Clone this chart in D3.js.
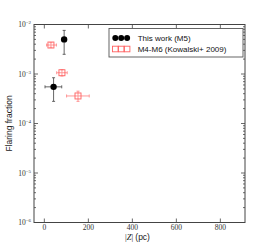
<!DOCTYPE html>
<html>
<head>
<meta charset="utf-8">
<script src="https://cdn.jsdelivr.net/npm/d3@7"></script>
<style>
  body { margin: 0; background: #fff; }
  svg { display: block; }
</style>
</head>
<body>
<script>
// data
var thisWork = [
  { z: 90, f: 5.0e-3, fLo: 2.5e-3, fHi: 7.6e-3, zLo: 90, zHi: 90 },
  { z: 42, f: 5.5e-4, fLo: 2.8e-4, fHi: 8.4e-4, zLo: 3, zHi: 79 }
];
var kowalski = [
  { z: 30, f: 3.85e-3, fLo: 3.45e-3, fHi: 4.3e-3, zLo: 10, zHi: 55 },
  { z: 80, f: 1.06e-3, fLo: 9.1e-4, fHi: 1.22e-3, zLo: 56, zHi: 104 },
  { z: 153, f: 3.6e-4, fLo: 2.8e-4, fHi: 4.5e-4, zLo: 101, zHi: 204 }
];
var xTicks = [0, 200, 400, 600, 800];
var yTicks = [1e-6, 1e-5, 1e-4, 1e-3, 1e-2];
var legendLabels = ["This work (M5)", "M4-M6 (Kowalski+ 2009)"];

var width = 274, height = 247;
var pLeft = 34, pRight = 245, pTop = 24.5, pBottom = 222.5;

var svg = d3.select("body").append("svg")
    .attr("width", width)
    .attr("height", height);

var x = d3.scaleLinear().domain([-47, 912]).range([pLeft, pRight]);
var y = d3.scaleLog().domain([1e-6, 1e-2]).range([pBottom, pTop]);

var spine = "#444";
var minorY = [];
for (var e = -6; e < -2; e++) {
  for (var m = 2; m <= 9; m++) minorY.push(m * Math.pow(10, e));
}

// ticks, pointing inward, on all four sides
var tg = svg.append("g").attr("stroke", spine).attr("stroke-width", 0.8);
xTicks.forEach(function (t) {
  tg.append("line").attr("x1", x(t)).attr("x2", x(t)).attr("y1", pBottom).attr("y2", pBottom - 4);
  tg.append("line").attr("x1", x(t)).attr("x2", x(t)).attr("y1", pTop).attr("y2", pTop + 4);
});
yTicks.forEach(function (t) {
  tg.append("line").attr("x1", pLeft).attr("x2", pLeft + 4).attr("y1", y(t)).attr("y2", y(t));
  tg.append("line").attr("x1", pRight).attr("x2", pRight - 4).attr("y1", y(t)).attr("y2", y(t));
});
minorY.forEach(function (t) {
  tg.append("line").attr("x1", pLeft).attr("x2", pLeft + 2).attr("y1", y(t)).attr("y2", y(t));
  tg.append("line").attr("x1", pRight).attr("x2", pRight - 2).attr("y1", y(t)).attr("y2", y(t));
});

svg.append("rect")
    .attr("x", pLeft).attr("y", pTop)
    .attr("width", pRight - pLeft).attr("height", pBottom - pTop)
    .attr("fill", "none").attr("stroke", spine).attr("stroke-width", 1);

// tick labels (mathtext style)
svg.selectAll(".xt").data(xTicks).enter().append("text")
    .attr("x", function (d) { return x(d); })
    .attr("y", pBottom + 7)
    .attr("text-anchor", "middle")
    .attr("font-family", "Liberation Serif")
    .attr("font-size", 7.5)
    .attr("fill", "#333")
    .text(function (d) { return d; });

var yt = svg.selectAll(".yt").data(yTicks).enter().append("text")
    .attr("x", pLeft - 3)
    .attr("y", function (d) { return y(d) + 2.5; })
    .attr("text-anchor", "end")
    .attr("font-family", "Liberation Serif")
    .attr("font-size", 7.5)
    .attr("fill", "#333");
yt.append("tspan").text("10");
yt.append("tspan")
    .attr("dy", -3)
    .attr("font-size", 5)
    .text(function (d) { return "\u2212" + Math.round(-Math.log10(d)); });

// axis labels
svg.append("text")
    .attr("transform", "translate(12," + ((pTop + pBottom) / 2) + ") rotate(-90)")
    .attr("text-anchor", "middle")
    .attr("font-family", "Liberation Sans")
    .attr("font-size", 8.5)
    .attr("fill", "#222")
    .text("Flaring fraction");

var xl = svg.append("text")
    .attr("x", (pLeft + pRight) / 2 - 2)
    .attr("y", 239.5)
    .attr("text-anchor", "middle")
    .attr("font-size", 8.5)
    .attr("fill", "#222");
xl.append("tspan").attr("font-family", "Liberation Serif").text("|");
xl.append("tspan").attr("font-family", "Liberation Serif").attr("font-style", "italic").text("Z");
xl.append("tspan").attr("font-family", "Liberation Serif").text("| ");
xl.append("tspan").attr("font-family", "Liberation Sans").text("(pc)");

// error bars
function errorBars(data, color) {
  var g = svg.append("g").attr("stroke", color).attr("stroke-width", 0.9);
  data.forEach(function (d) {
    var cx = x(d.z), cy = y(d.f);
    g.append("line").attr("x1", cx).attr("x2", cx).attr("y1", y(d.fLo)).attr("y2", y(d.fHi));
    g.append("line").attr("x1", cx - 1.5).attr("x2", cx + 1.5).attr("y1", y(d.fLo)).attr("y2", y(d.fLo));
    g.append("line").attr("x1", cx - 1.5).attr("x2", cx + 1.5).attr("y1", y(d.fHi)).attr("y2", y(d.fHi));
    if (d.zHi > d.zLo) {
      g.append("line").attr("x1", x(d.zLo)).attr("x2", x(d.zHi)).attr("y1", cy).attr("y2", cy);
      g.append("line").attr("x1", x(d.zLo)).attr("x2", x(d.zLo)).attr("y1", cy - 1.5).attr("y2", cy + 1.5);
      g.append("line").attr("x1", x(d.zHi)).attr("x2", x(d.zHi)).attr("y1", cy - 1.5).attr("y2", cy + 1.5);
    }
  });
}

errorBars(kowalski, "#ff8c8c");
svg.selectAll(".sq").data(kowalski).enter().append("rect")
    .attr("x", function (d) { return x(d.z) - 3; })
    .attr("y", function (d) { return y(d.f) - 3; })
    .attr("width", 6).attr("height", 6)
    .attr("fill", "none")
    .attr("stroke", "#ff6060")
    .attr("stroke-width", 0.9);

errorBars(thisWork, "#555");
svg.selectAll(".dot").data(thisWork).enter().append("circle")
    .attr("cx", function (d) { return x(d.z); })
    .attr("cy", function (d) { return y(d.f); })
    .attr("r", 3.2)
    .attr("fill", "#000");

// legend
var lg = svg.append("g");
lg.append("rect")
    .attr("x", 109).attr("y", 28.5)
    .attr("width", 134).attr("height", 28.5)
    .attr("fill", "#fff")
    .attr("stroke", "#555")
    .attr("stroke-width", 0.9);
var markerX = [115.3, 121.2, 127.1];
markerX.forEach(function (mx) {
  lg.append("circle").attr("cx", mx).attr("cy", 38).attr("r", 3).attr("fill", "#000");
  lg.append("rect").attr("x", mx - 2.8).attr("y", 46.2).attr("width", 5.6).attr("height", 5.6)
      .attr("fill", "none").attr("stroke", "#ff6060").attr("stroke-width", 0.9);
});
legendLabels.forEach(function (t, i) {
  lg.append("text")
      .attr("x", 137.7)
      .attr("y", 41 + i * 11)
      .attr("font-family", "Liberation Sans")
      .attr("font-size", 8)
      .attr("fill", "#111")
      .text(t);
});
</script>
</body>
</html>
